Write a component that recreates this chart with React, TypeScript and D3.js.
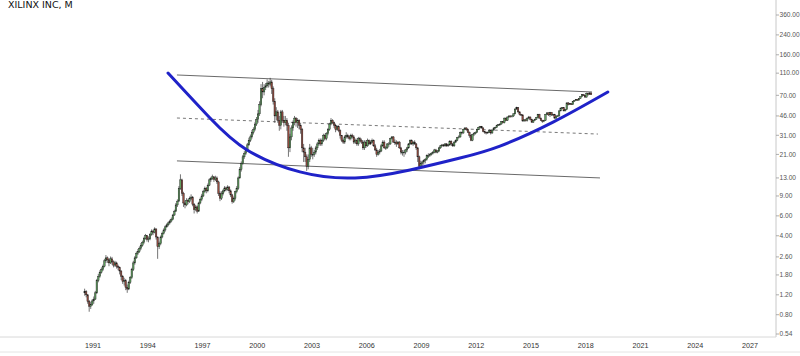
import React from "react";
import * as d3 from "d3";

const title = "XILINX INC, M";
const firstYear = 1990;
const firstMonth = 6; // July (0-based)

// monthly closes from Jul 1990
const closes = [
  1.28, 1.2, 1.05, 0.95, 0.98, 1.06,
  1.1, 1.25, 1.6, 1.75, 1.9, 2.0, 2.15, 2.4, 2.55, 2.45, 2.3, 2.5,
  2.35, 2.2, 2.3, 2.15, 2.1, 1.95, 1.75, 1.58, 1.6, 1.4, 1.35, 1.55,
  1.7, 2.0, 2.3, 2.55, 2.8, 2.9, 3.1, 3.3, 3.5, 3.8, 4.0, 3.7,
  3.75, 4.1, 4.4, 4.3, 4.6, 3.9, 3.2, 3.4, 3.9, 4.2, 4.5, 4.8,
  5.0, 5.2, 5.4, 5.6, 6.1, 6.6, 7.5, 8.1, 10.5, 12.5, 9.5, 7.8,
  7.5, 8.2, 8.0, 8.6, 8.8, 7.6, 6.8, 7.2, 6.6, 7.8, 8.4, 9.0,
  9.8, 10.5, 10.0, 11.2, 12.5, 12.8, 13.3, 12.6, 13.0, 12.0, 9.5, 8.6,
  9.4, 10.0, 10.6, 10.3, 10.8, 10.0, 9.2, 8.0, 8.6, 9.8, 10.5, 13.0,
  15.5, 17.5, 20.0, 21.5, 23.0, 25.5, 28.0, 30.0, 33.0, 35.0, 39.0, 43.0,
  48, 58, 80, 75, 82, 85, 90, 88, 92, 80, 62, 46,
  50, 42, 38, 50, 42, 40, 42, 38, 24, 30, 36, 40,
  44, 40, 42, 38, 35, 24, 22, 20, 16.5, 19, 24, 21,
  21, 22, 24, 26, 28, 26, 28, 31, 29, 32, 35, 39,
  42, 40, 38, 35, 37, 34, 31, 28, 27, 30, 31, 30,
  29, 31, 30, 27, 28, 26, 29, 28, 27, 24, 27, 25,
  28, 26, 27, 28, 25, 23, 21, 22, 22.5, 25, 27, 24,
  24, 26, 26, 29, 30, 27, 27, 26, 27, 24, 22, 22,
  22, 23, 24, 26, 28, 26, 27, 26, 24, 20, 16.5, 17.5,
  18, 18.5, 19, 20.5, 20.5, 21, 21.5, 22, 23, 22, 22.5, 24,
  25, 25.5, 25, 26, 25, 25.5, 27.5, 26, 25, 27, 28, 29.5,
  30, 33, 32.5, 35, 36, 35, 33, 31, 28, 31.5, 32, 33,
  35, 36.5, 37, 36, 33.5, 33, 32.5, 33, 34, 32.5, 34.5, 36,
  36.5, 38, 38.5, 39, 41, 40, 44, 42, 45, 46, 45.5, 46,
  48, 53, 54.5, 50, 47.5, 47, 41.5, 42.5, 42, 44, 45, 43,
  40.5, 42, 43, 44.5, 47.5, 44, 42, 41.5, 42, 47.5, 49, 47,
  49.5, 47, 47.5, 44, 46, 46, 51, 54, 54.5, 51, 52.5, 60,
  58, 59, 58, 62, 63, 64.5, 63.5, 65.5, 68, 71, 70, 67.5,
  73, 71, 73.5, 71,
];

const highs = [
  1.36, 1.32, 1.22, 1.08, 1.04, 1.1,
  1.16, 1.3, 1.66, 1.84, 1.98, 2.1, 2.22, 2.5, 2.7, 2.62, 2.5, 2.62,
  2.6, 2.42, 2.4, 2.36, 2.22, 2.14, 1.98, 1.8, 1.7, 1.66, 1.48, 1.6,
  1.76, 2.08, 2.4, 2.64, 2.9, 3.05, 3.22, 3.45, 3.62, 3.92, 4.15, 4.05,
  3.95, 4.22, 4.55, 4.52, 4.75, 4.62, 3.95, 3.55, 4.02, 4.35, 4.65, 4.95,
  5.15, 5.35, 5.55, 5.8, 6.25, 6.8, 7.8, 8.4, 11.0, 14.0, 12.8, 9.8,
  8.2, 8.6, 8.5, 8.9, 9.3, 9.0, 7.8, 7.5, 7.4, 8.0, 8.7, 9.4,
  10.2, 10.9, 10.8, 11.6, 12.9, 13.3, 13.9, 13.5, 13.6, 13.4, 12.3, 9.9,
  9.9, 10.3, 11.0, 10.9, 11.2, 11.0, 10.3, 9.4, 8.9, 10.0, 11.0, 13.4,
  16.2, 18.2, 20.8, 22.4, 24.0, 26.5, 29.5, 31.5, 34.5, 36.5, 40.5, 45.0,
  52, 62, 88, 92, 88, 90, 97, 94, 100, 96, 84, 66,
  55, 52, 46, 52, 52, 46, 46, 44, 40, 32, 38, 42,
  46, 45, 44, 43, 40, 36, 26, 24, 21, 21, 26, 25,
  24, 23, 25, 27, 29, 29, 29, 32, 32, 33, 36, 40,
  44, 43, 41, 39, 38, 38, 35, 31, 29, 31, 33, 32,
  31, 32, 32, 31, 29, 29, 30, 30, 29, 28, 28, 28,
  29, 28.5, 28, 29, 28.5, 26, 24, 23, 23.5, 26, 28, 28,
  25, 26.5, 27, 29.5, 30.5, 30.5, 28.5, 28, 27.5, 27.5, 24.5, 23,
  23, 23.5, 24.5, 26.5, 28.5, 28.5, 27.5, 28, 26.5, 24.5, 20.5, 18.5,
  18.5, 19, 19.5, 21, 21.5, 21.5, 22, 22.5, 23.5, 23.5, 23, 24.5,
  25.5, 26, 26, 26.5, 26.5, 26, 28, 28, 26.5, 27.5, 28.5, 30,
  31, 33.5, 33.5, 35.5, 36.5, 36.5, 35.5, 33.5, 31.5, 32, 33, 33.5,
  35.5, 37, 37.5, 37.5, 36.5, 34, 33.5, 33.5, 35, 34.5, 35, 36.5,
  37, 38.5, 39, 39.5, 41.5, 41.5, 44.5, 44.5, 45.5, 46.5, 46.5, 46.5,
  48.5, 53.5, 55.5, 55, 50.5, 48, 47.5, 43, 43.5, 44.5, 46, 45.5,
  43.5, 42.5, 43.5, 45, 48, 48, 44.5, 42.5, 42.5, 48, 49.5, 49.5,
  50, 49.5, 48, 48, 46.5, 47, 51.5, 54.5, 55, 55, 53, 60.5,
  61, 59.5, 59.5, 62.5, 63.5, 65, 65, 66, 68.5, 71.5, 72, 70.5,
  74, 74, 74.5, 74,
];

const lows = [
  1.18, 1.14, 1.0, 0.85, 0.9, 0.96,
  1.0, 1.08, 1.22, 1.55, 1.7, 1.85, 1.95, 2.1, 2.3, 2.3, 2.15, 2.25,
  2.22, 2.1, 2.12, 2.05, 1.98, 1.82, 1.62, 1.5, 1.45, 1.32, 1.25, 1.32,
  1.5, 1.66, 1.95, 2.22, 2.5, 2.7, 2.82, 3.0, 3.2, 3.4, 3.7, 3.55,
  3.5, 3.65, 4.0, 4.05, 4.2, 3.7, 2.5, 3.05, 3.3, 3.8, 4.1, 4.35,
  4.7, 4.85, 5.05, 5.25, 5.5, 6.0, 6.5, 7.2, 8.0, 10.2, 9.0, 7.2,
  7.0, 7.3, 7.6, 7.8, 8.3, 7.3, 6.3, 6.6, 6.3, 6.5, 7.6, 8.1,
  8.8, 9.6, 9.5, 9.7, 11.0, 12.0, 12.5, 12.0, 12.2, 11.5, 9.0, 8.1,
  8.3, 9.1, 9.7, 9.9, 10.0, 9.5, 8.8, 7.7, 7.8, 8.2, 9.5, 10.2,
  12.8, 14.8, 17.0, 19.2, 20.8, 22.5, 25.0, 27.0, 29.0, 31.5, 34.0, 37.5,
  40, 46, 56, 66, 70, 78, 82, 82, 84, 72, 58, 40,
  42, 40, 34, 35, 40, 37, 38, 34, 20, 22, 28, 34,
  38, 37, 36, 35, 32, 22, 18, 18, 15, 15.5, 18, 20,
  19, 20, 21, 23, 25, 25, 25, 27, 28, 28, 31, 34,
  38, 39, 36, 33, 34, 33, 29, 27, 26, 26, 29, 29,
  28, 28, 29, 26, 26, 25, 25, 27, 26, 23, 23, 24,
  24.5, 25.5, 25.5, 26.5, 24.5, 22.5, 20, 20.5, 21, 22, 24.5, 23.5,
  23, 23.5, 24.5, 25.5, 28.5, 26.5, 25.5, 24.5, 25.5, 23.5, 21, 20.5,
  20, 21, 22, 23.5, 25.5, 25.5, 25, 25.5, 23, 18, 15.5, 16,
  16.5, 17, 17.5, 18.5, 19.5, 20, 20.5, 21, 21.5, 21.5, 21.5, 22,
  23.5, 24.5, 24.5, 24.5, 24.5, 24.5, 25, 25, 24.5, 24.5, 26.5, 27.5,
  29, 29.5, 31.5, 32, 34.5, 34, 32.5, 29.5, 27.5, 27.5, 30.5, 31.5,
  32.5, 34.5, 35.5, 35.5, 33, 32, 31.5, 32, 32.5, 31.5, 32, 34,
  35.5, 36, 37.5, 37.5, 38.5, 39.5, 39.5, 41.5, 41.5, 44, 44.5, 44.5,
  45, 47.5, 52, 49, 46.5, 46, 41, 41, 41, 41, 43, 42,
  40, 40, 41.5, 42.5, 44, 43.5, 41.5, 40, 40.5, 41.5, 47, 46,
  45, 46, 46.5, 43.5, 43.5, 45, 45.5, 50.5, 53, 50.5, 50.5, 52,
  57, 57.5, 57.5, 57.5, 61.5, 62.5, 62.5, 63, 65, 67.5, 69, 67,
  67, 69.5, 70.5, 70.5,
];

// trend channel lines: [startDate, startPrice, endDate, endPrice]
const upperLine = [1995.6, 106, 2018.34, 75];
const midLine = [1995.6, 44.1, 2018.67, 31.8];
const lowerLine = [1995.6, 18.4, 2018.78, 13.0];

// rounded-bottom curve points
const curveDates = [1995.11, 1997.41, 1999.44, 2002.34, 2005.36, 2008.37, 2011.11, 2013.3, 2016.21, 2019.21];
const curvePrices = [110.4, 44.1, 23.0, 14.7, 13.0, 15.3, 19.5, 24.9, 40.6, 75.0];

const yTicks = [360, 240, 160, 110, 70, 46, 31, 21, 13, 9, 6, 4, 2.6, 1.8, 1.2, 0.8, 0.54];
const xTicks = [1991, 1994, 1997, 2000, 2003, 2006, 2009, 2012, 2015, 2018, 2021, 2024, 2027];

const W = 800;
const H = 356;
const axisX = 776;
const axisY = 337;

export default function App() {
  const x = d3.scaleLinear().domain([1991, 2027]).range([93, 750]);
  const y = d3.scaleLog().domain([0.54, 360]).range([334, 15]);

  const candles = closes.map((c, i) => {
    const mi = firstMonth + i;
    const date = firstYear + (mi + 0.5) / 12;
    const o = i === 0 ? 1.25 : closes[i - 1];
    return { date, o, c, h: highs[i], l: lows[i] };
  });

  const line = d3
    .line<[number, number]>()
    .x((d) => x(d[0]))
    .y((d) => y(d[1]))
    .curve(d3.curveNatural);
  const curvePath = line(curveDates.map((d, i) => [d, curvePrices[i]] as [number, number])) || "";

  const seg = (a: number[]) => ({ x1: x(a[0]), y1: y(a[1]), x2: x(a[2]), y2: y(a[3]) });
  const bw = 1.5;
  const font = "'DejaVu Sans', Verdana, sans-serif";
  const tickFont = "'Liberation Sans', Arial, sans-serif";

  return (
    <svg width={W} height={H} style={{ position: "absolute", left: 0, top: 0, background: "#fff" }}>
      <rect x={0} y={0} width={W} height={H} fill="#fff" />
      <text x={8} y={8} fontFamily={font} fontSize={9.5} fill="#111">{title}</text>

      {/* channel lines */}
      <line {...seg(upperLine)} stroke="#444" strokeWidth={0.8} />
      <line {...seg(midLine)} stroke="#555" strokeWidth={0.8} strokeDasharray="3,3" />
      <line {...seg(lowerLine)} stroke="#444" strokeWidth={0.8} />

      {/* candles */}
      {candles.map((d, i) => {
        const cx = x(d.date);
        const up = d.c >= d.o;
        const top = y(Math.max(d.o, d.c));
        const bot = y(Math.min(d.o, d.c));
        return (
          <g key={i}>
            <line x1={cx} x2={cx} y1={y(d.h)} y2={y(d.l)} stroke="#2a2a2a" strokeWidth={0.65} />
            <rect
              x={cx - bw / 2}
              y={top}
              width={bw}
              height={Math.max(0.8, bot - top)}
              fill={up ? "#5f9f5f" : "#944c40"}
              stroke="#1a1a1a"
              strokeWidth={0.4}
            />
          </g>
        );
      })}

      {/* rounded bottom curve */}
      <path d={curvePath} fill="none" stroke="#1f22c8" strokeWidth={3} strokeLinecap="round" />

      {/* axes */}
      <line x1={axisX} x2={axisX} y1={0} y2={axisY} stroke="#c8c8c8" strokeWidth={1} />
      <line x1={0} x2={axisX} y1={axisY} y2={axisY} stroke="#d8d8d8" strokeWidth={1} />
      <line x1={0} x2={W} y1={352} y2={352} stroke="#e4e4e4" strokeWidth={1} />
      {yTicks.map((v) => (
        <g key={v}>
          <line x1={axisX} x2={axisX + 3} y1={y(v)} y2={y(v)} stroke="#999" strokeWidth={0.8} />
          <text x={axisX + 3.5} y={y(v)} dy="0.35em" fontFamily={tickFont} fontSize={6.6} fill="#555">
            {v.toFixed(2)}
          </text>
        </g>
      ))}
      {xTicks.map((t) => (
        <text key={t} x={x(t)} y={345} dy="0.35em" textAnchor="middle" fontFamily={tickFont} fontSize={7.2} fill="#333">
          {t}
        </text>
      ))}
    </svg>
  );
}
